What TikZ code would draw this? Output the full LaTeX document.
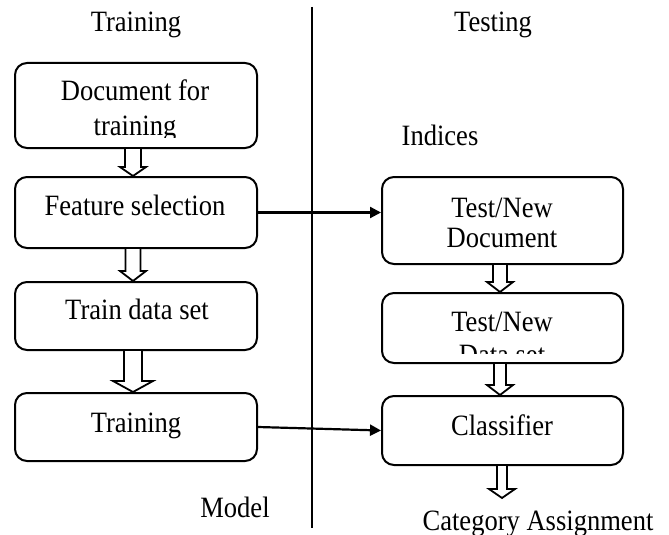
\documentclass[tikz,border=0pt]{standalone}
\usepackage{fontspec}
\setmainfont{Liberation Serif}[FakeStretch=0.9]
\usetikzlibrary{arrows.meta,calc}

% Hollow block arrow from the bottom of one box to the top of the next.
% #1 source node, #2 target node or coordinate, #3 x position,
% #4 shaft half width, #5 head half width, #6 head length
\newcommand{\blockarrow}[6]{%
  \draw[blockline] let \p1=(#1.south), \p2=(#2) in
    (#3-#4,\y1) -- (#3-#4,\y2+#6) -- (#3-#5,\y2+#6) -- (#3,\y2)
    -- (#3+#5,\y2+#6) -- (#3+#4,\y2+#6) -- (#3+#4,\y1);%
}

\begin{document}
\begin{tikzpicture}[x=1pt,y=-1pt,
  box/.style={draw, line width=2pt, rounded corners=12pt, inner sep=0pt},
  lbl/.style={font=\fontsize{29.5}{34}\selectfont, anchor=base, inner sep=0pt},
  blockline/.style={draw, line width=1.8pt, line join=miter, fill=white},
  conn/.style={line width=2.2pt, -{Triangle[length=11pt,width=11pt]}},
  divider/.style={line width=2pt}]
\useasboundingbox (0,0) rectangle (669,535);

% column headings and divider
\node[lbl] (thead) at (136,32) {Training};
\node[lbl] (shead) at (493,32) {Testing};
\coordinate (divtop) at (312,7);
\coordinate (divbot) at (312,528);
\draw[divider] (divtop) -- (divbot);

% training column boxes
\node[box, minimum width=242pt, minimum height=85pt] (b1) at (136,105.5) {};
\node[box, minimum width=242pt, minimum height=71pt] (b2) at (136,212.5) {};
\node[box, minimum width=242pt, minimum height=68pt] (b3) at (136,316) {};
\node[box, minimum width=242pt, minimum height=68pt] (b4) at (136,427) {};

\begin{scope}
  \clip (b1.north west) rectangle ([yshift=12pt]b1.south east);
  \node[lbl] (t1a) at (135,100) {Document for};
  \node[lbl] (t1b) at (135,135) {training};
\end{scope}
\node[lbl] (t2) at (135,215) {Feature selection};
\node[lbl] (t3) at (137,319) {Train data set};
\node[lbl] (t4) at (136,432) {Training};

% testing column boxes
\node[box, minimum width=241pt, minimum height=87pt] (r1) at (502.5,220.5) {};
\node[box, minimum width=241pt, minimum height=70pt] (r2) at (502.5,328) {};
\node[box, minimum width=241pt, minimum height=69pt] (r3) at (502.5,430.5) {};

\node[lbl] (u1a) at (502,217) {Test/New};
\node[lbl] (u1b) at (502,247) {Document};
\begin{scope}
  \clip (r2.north west) rectangle ([yshift=11pt]r2.south east);
  \node[lbl] (u2a) at (502,331) {Test/New};
  \node[lbl] (u2b) at (502,364) {Data set};
\end{scope}
\node[lbl] (u3) at (502,435) {Classifier};

% free labels
\node[lbl] (idx) at (440,145) {Indices};
\node[lbl] (mdl) at (235,517) {Model};
\node[lbl] (cat) at (538,530) {Category Assignment};

% block arrows between stages
\blockarrow{b1}{b2.north}{133}{8}{13}{9}
\blockarrow{b2}{b3.north}{133}{7.5}{13}{10}
\blockarrow{b3}{b4.north}{133}{9}{20}{11}
\blockarrow{r1}{r2.north}{500}{7}{13}{10}
\blockarrow{r2}{r3.north}{500}{6}{13}{10}
\coordinate (outtip) at (502,498);
\blockarrow{r3}{outtip}{502}{5}{13}{9}

% links from training to testing
\draw[conn] (b2.east) -- (b2.east -| r1.west);
\draw[conn] (b4.east) -- (r3.west);
\end{tikzpicture}
\end{document}
